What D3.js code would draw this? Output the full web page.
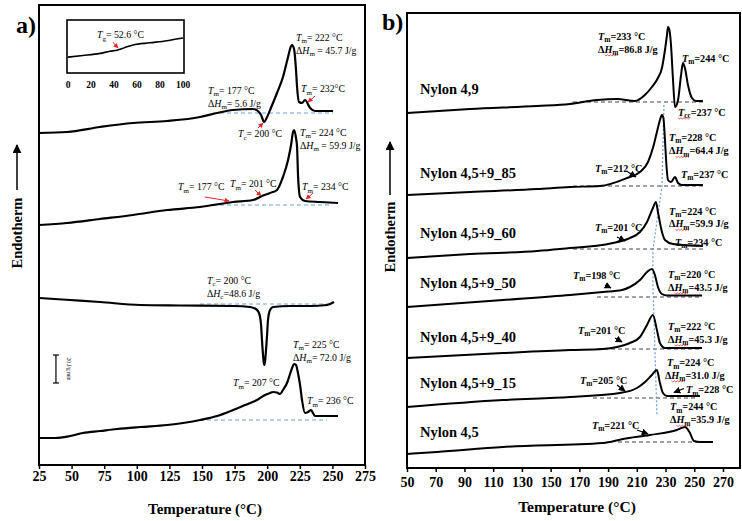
<!DOCTYPE html>
<html><head><meta charset="utf-8">
<script src="https://cdn.jsdelivr.net/npm/d3@7"></script>
<style>body{margin:0;background:#fff}svg{display:block}</style>
</head><body>
<svg id="c" width="742" height="521"></svg>
<script>
// ---------------- DATA : panel a (temperature °C, heat flow offset, arbitrary units) ----------------
const aTicks = [25,50,75,100,125,150,175,200,225,250,275];
const a1T = [25,46.5,71.8,97.1,123.2,148.5,161.5,173.8,189.1,192.9,195.3,197.6,199.9,202.2,207.5,212.1,216.0,218.3,219.1,220.6,222.1,222.9,224.4,226.7,229.0,232.9,236.7,250.5];
const a1Q = [66.4,66.6,67.6,68.4,68.8,69.6,70.4,71,71.2,70.8,70,68.6,69.6,71,74.4,77.6,81.6,83.8,84,83.2,79,75.6,72.6,72.4,73,71.4,70.8,70.8];
const a2T = [25,46.5,71.8,97.1,123.2,148.5,173.8,189.1,196.0,202.2,207.5,212.1,216.0,218.3,219.8,220.6,222.1,222.9,223.7,225.2,229.0,240.5,254.3];
const a2Q = [48,48.4,49.2,50,51,51.6,52.6,53,53.8,54.4,55,57.6,61,64,66.6,67,65.4,63.6,57.6,53.6,52.8,52.6,52.4];
const a3T = [25,48.8,71.8,102.5,133.1,173.8,186.8,191.4,193.7,195.3,196.0,196.8,197.6,198.3,199.1,199.9,200.6,202.2,204.5,217.5,232.8,245.9,251.2];
const a3Q = [33.4,33,32.6,32,31.9,31.8,31.6,31.2,30.4,28,25,22,20,20.6,23,26,29,31,31.6,31.8,31.8,32,32.6];
const a4T = [25,37.3,48.8,58.7,71.8,84.8,102.5,123.2,148.5,161.5,173.8,183.0,192.2,198.3,202.2,204.5,207.5,209.8,212.1,215.2,217.5,219.1,220.6,222.1,223.6,225.2,226.7,229.0,231.3,233.6,235.1,236.7,244.3,254.3];
const a4Q = [5.4,5.4,5.8,6.4,6.8,7.2,7.6,8,9,9.8,11,12,13,14,14.4,14.6,14.5,14.2,15,16.4,18.2,19.4,20.2,20,18.4,16,13,10.4,10.6,11,10.4,9.8,9.8,9.8];
// baselines: [T start, T end, level]
const aBase = [[158.4,250.5,70.4],[158.4,248.2,52],[148.5,248.2,32.2],[148.5,245.9,9]];
// inset (glass transition)
const insetTicks = [0,20,40,60,80,100];
const inT = [0,13,27.8,36.5,42.6,49.6,56.5,71.3,86.1,100];
const inQ = [3.0,3.3,3.7,4.1,4.3,4.8,5.3,5.7,6.1,6.6];
// annotations panel a
const aNotes = [
 [222.1,85.5,"T_m= 222 °C"],[222.1,82.9,"ΔH_m = 45.7 J/g"],[225.9,75.2,"T_m= 232°C"],
 [154.6,74.9,"T_m= 177 °C"],[154.6,72.3,"ΔH_m= 5.6 J/g"],[177.6,66.2,"T_c= 200 °C"],
 [225.2,66.5,"T_m= 224 °C"],[225.2,63.9,"ΔH_m = 59.9 J/g"],[131.6,55.6,"T_m= 177 °C"],
 [171.5,56.2,"T_m= 201 °C"],[226.7,55.6,"T_m= 234 °C"],[153.8,36.9,"T_c= 200 °C"],
 [153.8,34.3,"ΔH_c=48.6 J/g"],[219.8,24.1,"T_m= 225 °C"],[219.8,21.5,"ΔH_m= 72.0 J/g"],
 [173.8,16.4,"T_m= 207 °C"],[230.5,12.8,"T_m= 236 °C"]
];
const aArrows = [[236.7,73.8,231.3,72.6],[193.0,67.4,196.8,68.4],[152.3,53.6,170.7,52.8],[190.7,55,195.3,53.8],[235.1,54.4,229.8,53.2]];
const inNote = [25.2,7.2,"T_g= 52.6 °C"];
const inArrow = [39.1,5.8,43.5,4.7];
const scaleBar = [38,16.4,22,"20 J/g min"];

// ---------------- DATA : panel b ----------------
const bTicks = [50,70,90,110,130,150,170,190,210,230,250,270];
const bNames = ["Nylon 4,9","Nylon 4,5+9_85","Nylon 4,5+9_60","Nylon 4,5+9_50","Nylon 4,5+9_40","Nylon 4,5+9_15","Nylon 4,5"];
const bNameLevel = [75.8,59,47,37,26.2,17,7.2];
const b1T = [50,93.9,140.5,163.5,182.3,196.2,208.7,215.6,220.5,224.7,227.5,229.6,231.0,231.7,232.7,233.8,235.2,236.6,238.7,240.8,242.1,243.5,245.6,248.4,251.2,256.0];
const b1Q = [71,71.8,72.4,72.8,73.6,73.8,73.4,74.6,76.2,78,80,83.6,86.6,88.2,87.6,84.6,77.6,72.2,73.6,78.6,81,80,76.6,74,73.4,73.4];
const b2T = [50,93.9,140.5,163.5,184.3,203.1,212.2,217.8,221.2,224.0,226.1,227.5,228.5,229.6,230.3,231.7,233.8,236.6,238.7,241.4,256.0];
const b2Q = [54.6,55.2,55.8,56.2,56.4,58,59.2,61.2,64,67.2,69.6,70.6,70,65.6,62,57.6,57.2,58.2,57,56.6,56.6];
const b3T = [50,93.9,140.5,156.5,193.4,205.2,212.2,217.1,221.2,223.3,224.7,227.5,229.6,235.2,256.0];
const b3Q = [42,42.8,43.4,43.8,45,46,47.2,49.2,52,53.2,51.2,47.2,45.6,44.8,44.4];
const b4T = [50,116.8,163.5,186.4,199.7,205.2,212.2,217.1,220.5,222.6,224.7,227.5,231.0,255.4];
const b4Q = [32.2,33.6,34.6,35.2,35.6,36.2,37.6,39.2,39.8,38.6,36.2,34.8,34.5,34.5];
const b5T = [50,116.8,163.5,186.4,196.2,205.2,212.2,217.1,221.2,224.0,226.1,229.6,255.4];
const b5Q = [22,23,23.6,23.8,24.2,25,26.2,28.6,30.6,27.6,25,24,24];
const b6T = [50,116.8,163.5,198.3,210.1,215.7,220.5,224.0,226.1,228.2,231.0,254.0];
const b6Q = [12.2,13.6,14.2,15,16,17.2,18.6,19.6,17,15,14.4,14.4];
const b7T = [50,70.9,116.8,186.4,200.4,219.2,237.9,243.5,247.0,249.8,254.0,263.0];
const b7Q = [2.8,3.2,4.2,5,5.8,6.6,7.6,8.2,7,5.4,5.2,5.2];
const bBase = [[165.6,256,73.2],[165.6,256,56.4],[165.6,256,43.8],[182.3,255.4,34.2],[182.3,255.4,23.8],[179.5,252.6,14],[196.9,263,5.2]];
const peakGuideT = [228.9,227.5,221.2,221.2,222.6,224.0];
const peakGuideQ = [72.6,56.4,43.6,37,23.6,10.6];
const bNotes = [
 [183.0,86.4,"T_m=233 °C"],[183.0,83.8,"ΔH_m=86.8 J/g"],[241.4,82,"T_m=244 °C"],[238.6,71.2,"T_cc=237 °C"],
 [232.4,66.2,"T_m=228 °C"],[232.4,63.5,"ΔH_m=64.4 J/g"],[180.9,60,"T_m=212 °C"],[240.7,58.8,"T_m=237 °C"],
 [232.4,51.4,"T_m=224 °C"],[232.4,48.9,"ΔH_m=59.9 J/g"],[236.6,45.2,"T_m=234 °C"],[180.9,48.2,"T_m=201 °C"],
 [165.6,38.6,"T_m=198 °C"],[231.7,38.8,"T_m=220 °C"],[231.7,36.2,"ΔH_m=43.5 J/g"],
 [169.0,27.6,"T_m=201 °C"],[231.7,28.4,"T_m=222 °C"],[231.7,25.8,"ΔH_m=45.3 J/g"],
 [170.4,17.6,"T_m=205 °C"],[231.0,21.1,"T_m=224 °C"],[229.6,18.6,"ΔH_m=31.0 J/g"],[244.2,15.7,"T_m=228 °C"],
 [233.1,12.3,"T_m=244 °C"],[233.1,9.7,"ΔH_m=35.9 J/g"],[178.8,8.6,"T_m=221 °C"]
];
const bArrows = [[203.8,59.2,209.4,58.2],[196.2,46.2,201.8,45.4],[187.8,36.6,192,36],[194.8,26,199.7,25.2],[196.2,16.6,201.8,15.4],[242.8,15.9,235.9,15.1],[210.1,7.6,217.8,6.8]];

// ---------------- DRAW ----------------
const SERIF = "'Liberation Serif','Times New Roman',Times,serif";
const svg = d3.select('#c');
const defs = svg.append('defs');
function marker(id, color, w) {
  defs.append('marker').attr('id', id).attr('viewBox','0 0 10 10').attr('refX',9).attr('refY',5)
    .attr('markerWidth', w).attr('markerHeight', w).attr('markerUnits','userSpaceOnUse').attr('orient','auto')
    .append('path').attr('d','M0,0 L10,5 L0,10 z').attr('fill', color);
}
marker('arRed','#e3262b',5);
marker('arBlk','#000',7);
marker('arBig','#000',9);

function rich(g, x, y, str, size, bold, squiggle) {
  const t = g.append('text').attr('x', x).attr('y', y + size*0.35)
    .attr('font-family', SERIF).attr('font-size', size).attr('font-weight', bold ? 'bold' : 'normal').attr('fill','#000');
  const parts = str.split(/([TH])_([a-z]+)/);
  let cur = 0;
  const add = (txt, style, off) => {
    const s = t.append('tspan').text(txt).attr('dy', off - cur);
    cur = off;
    if (style === 'i') s.attr('font-style','italic');
    if (style === 'sub') s.attr('font-size', size*0.72);
  };
  parts.forEach((p, i) => {
    if (!p) return;
    const k = i % 3;
    if (k === 0) add(p, '', 0); else if (k === 1) add(p, 'i', 0); else add(p, 'sub', size*0.25);
  });
  if (squiggle) {
    const plain = parts.filter(Boolean).join('');
    let i0 = -1, i1 = -1;
    if (plain.startsWith('ΔHm')) { i0 = 1; i1 = 2; }
    else if (plain.startsWith('Tcc')) { i0 = 0; i1 = 2; }
    if (i0 >= 0) {
      const n = t.node();
      const xs = n.getStartPositionOfChar(i0).x, xe = n.getEndPositionOfChar(i1).x;
      const yy = y + size*0.35 + 2.5;
      const pts = [];
      for (let xx = xs, k = 0; xx <= xe; xx += 1.5, k++) pts.push([xx, yy + (k % 2 ? 0.9 : -0.3)]);
      g.append('path').attr('d', d3.line()(pts)).attr('fill','none').attr('stroke','#e53935').attr('stroke-width',0.8);
    }
  }
  return t;
}

// ===== panel a =====
const xa = d3.scaleLinear([25,275],[39,365]);
const ya = d3.scaleLinear([0,92],[465,5]);
const ga = svg.append('g');
const lineA = d3.line().x(d => xa(d[0])).y(d => ya(d[1])).curve(d3.curveMonotoneX);
aBase.forEach(b => ga.append('line').attr('x1', xa(b[0])).attr('x2', xa(b[1])).attr('y1', ya(b[2])).attr('y2', ya(b[2]))
  .attr('stroke','#6f9fd6').attr('stroke-width',1.2).attr('stroke-dasharray','4,3'));
[[a1T,a1Q],[a2T,a2Q],[a3T,a3Q],[a4T,a4Q]].forEach(([T,Q]) => {
  ga.append('path').attr('d', lineA(T.map((t,i)=>[t,Q[i]]))).attr('fill','none').attr('stroke','#000').attr('stroke-width',2.2).attr('stroke-linejoin','round');
});
aNotes.forEach(n => rich(ga, xa(n[0]), ya(n[1]), n[2], 9.8, false, false));
aArrows.forEach(a => ga.append('line').attr('x1', xa(a[0])).attr('y1', ya(a[1])).attr('x2', xa(a[2])).attr('y2', ya(a[3]))
  .attr('stroke','#e3262b').attr('stroke-width',1).attr('marker-end','url(#arRed)'));
// scale bar
{
  const sx = xa(scaleBar[0]);
  ga.append('line').attr('x1',sx).attr('x2',sx).attr('y1',ya(scaleBar[1])).attr('y2',ya(scaleBar[2])).attr('stroke','#000').attr('stroke-width',1.2);
  [scaleBar[1],scaleBar[2]].forEach(v => ga.append('line').attr('x1',sx-3).attr('x2',sx+3).attr('y1',ya(v)).attr('y2',ya(v)).attr('stroke','#000').attr('stroke-width',1.2));
  ga.append('text').attr('transform',`translate(${sx+11},${ya((scaleBar[1]+scaleBar[2])/2)}) rotate(90)`)
    .attr('text-anchor','middle').attr('font-family',SERIF).attr('font-size',5.5).text(scaleBar[3]);
}
// frame
ga.append('rect').attr('x',xa(25)).attr('y',ya(92)).attr('width',xa(275)-xa(25)).attr('height',ya(0)-ya(92))
  .attr('fill','none').attr('stroke','#000').attr('stroke-width',2);
const axA = ga.append('g').attr('transform',`translate(0,${ya(0)})`)
  .call(d3.axisBottom(xa).tickValues(aTicks).tickSize(4).tickPadding(2));
axA.select('.domain').remove();
axA.selectAll('text').attr('font-family',SERIF).attr('font-size',14).attr('font-weight','bold').attr('fill','#000');
axA.selectAll('line').attr('stroke','#000').attr('stroke-width',1.5);
ga.append('text').attr('x',205).attr('y',514).attr('text-anchor','middle').attr('font-family',SERIF)
  .attr('font-size',15).attr('font-weight','bold').text('Temperature (°C)');
// inset
const xi = d3.scaleLinear([0,100],[68,183]);
const yi = d3.scaleLinear([0,10],[73,20]);
const gi = svg.append('g');
gi.append('rect').attr('x',67).attr('y',20).attr('width',117).attr('height',53).attr('fill','#fff').attr('stroke','#000').attr('stroke-width',1.6);
gi.append('path').attr('d', d3.line().x(d=>xi(d[0])).y(d=>yi(d[1])).curve(d3.curveMonotoneX)(inT.map((t,i)=>[t,inQ[i]])))
  .attr('fill','none').attr('stroke','#000').attr('stroke-width',1.6);
insetTicks.forEach(t => gi.append('text').attr('x',xi(t)).attr('y',88).attr('text-anchor','middle')
  .attr('font-family',SERIF).attr('font-size',9.5).attr('font-weight','bold').text(t));
rich(gi, xi(inNote[0]), yi(inNote[1]), inNote[2], 9.8, false, false);
gi.append('line').attr('x1',xi(inArrow[0])).attr('y1',yi(inArrow[1])).attr('x2',xi(inArrow[2])).attr('y2',yi(inArrow[3]))
  .attr('stroke','#e3262b').attr('stroke-width',1).attr('marker-end','url(#arRed)');

// ===== panel b =====
const xb = d3.scaleLinear([50,270],[407,723]);
const yb = d3.scaleLinear([0,91],[468,13]);
const gb = svg.append('g');
const lineB = d3.line().x(d => xb(d[0])).y(d => yb(d[1])).curve(d3.curveMonotoneX);
bBase.forEach(b => gb.append('line').attr('x1', xb(b[0])).attr('x2', xb(b[1])).attr('y1', yb(b[2])).attr('y2', yb(b[2]))
  .attr('stroke','#444').attr('stroke-width',1.2).attr('stroke-dasharray','4,3'));
gb.append('path').attr('d', d3.line().x(d=>xb(d[0])).y(d=>yb(d[1]))(peakGuideT.map((t,i)=>[t,peakGuideQ[i]])))
  .attr('fill','none').attr('stroke','#6f9fd6').attr('stroke-width',1.2).attr('stroke-dasharray','2,2');
[[b1T,b1Q],[b2T,b2Q],[b3T,b3Q],[b4T,b4Q],[b5T,b5Q],[b6T,b6Q],[b7T,b7Q]].forEach(([T,Q]) => {
  gb.append('path').attr('d', lineB(T.map((t,i)=>[t,Q[i]]))).attr('fill','none').attr('stroke','#000').attr('stroke-width',2).attr('stroke-linejoin','round');
});
bNames.forEach((n,i) => gb.append('text').attr('x', xb(59)).attr('y', yb(bNameLevel[i]) + 5)
  .attr('font-family',SERIF).attr('font-size',14.5).attr('font-weight','bold').text(n));
bNotes.forEach(n => rich(gb, xb(n[0]), yb(n[1]), n[2], 10.2, true, true));
bArrows.forEach(a => gb.append('line').attr('x1', xb(a[0])).attr('y1', yb(a[1])).attr('x2', xb(a[2])).attr('y2', yb(a[3]))
  .attr('stroke','#000').attr('stroke-width',1.3).attr('marker-end','url(#arBlk)'));
gb.append('rect').attr('x',xb(50)).attr('y',yb(91)).attr('width',740-xb(50)).attr('height',yb(0)-yb(91))
  .attr('fill','none').attr('stroke','#000').attr('stroke-width',2);
const axB = gb.append('g').attr('transform',`translate(0,${yb(0)})`)
  .call(d3.axisBottom(xb).tickValues(bTicks).tickSize(4).tickPadding(5));
axB.select('.domain').remove();
axB.selectAll('text').attr('font-family',SERIF).attr('font-size',14).attr('font-weight','bold').attr('fill','#000');
axB.selectAll('line').attr('stroke','#000').attr('stroke-width',1.5);
gb.append('text').attr('x',577).attr('y',512).attr('text-anchor','middle').attr('font-family',SERIF)
  .attr('font-size',15.5).attr('font-weight','bold').text('Temperature (°C)');

// ===== panel letters & Endotherm arrows =====
svg.append('text').attr('x',16).attr('y',33).attr('font-family',SERIF).attr('font-size',24).attr('font-weight','bold').text('a)');
svg.append('text').attr('x',382).attr('y',30).attr('font-family',SERIF).attr('font-size',24).attr('font-weight','bold').text('b)');
[[17,145,190,233],[390,142,195,237]].forEach(([x,y1,y2,yc]) => {
  svg.append('line').attr('x1',x).attr('x2',x).attr('y1',y2).attr('y2',y1).attr('stroke','#000').attr('stroke-width',1.5).attr('marker-end','url(#arBig)');
  svg.append('text').attr('transform',`translate(${x+5},${yc}) rotate(-90)`).attr('text-anchor','middle')
    .attr('font-family',SERIF).attr('font-size',14.5).attr('font-weight','bold').text('Endotherm');
});
</script>
</body></html>
